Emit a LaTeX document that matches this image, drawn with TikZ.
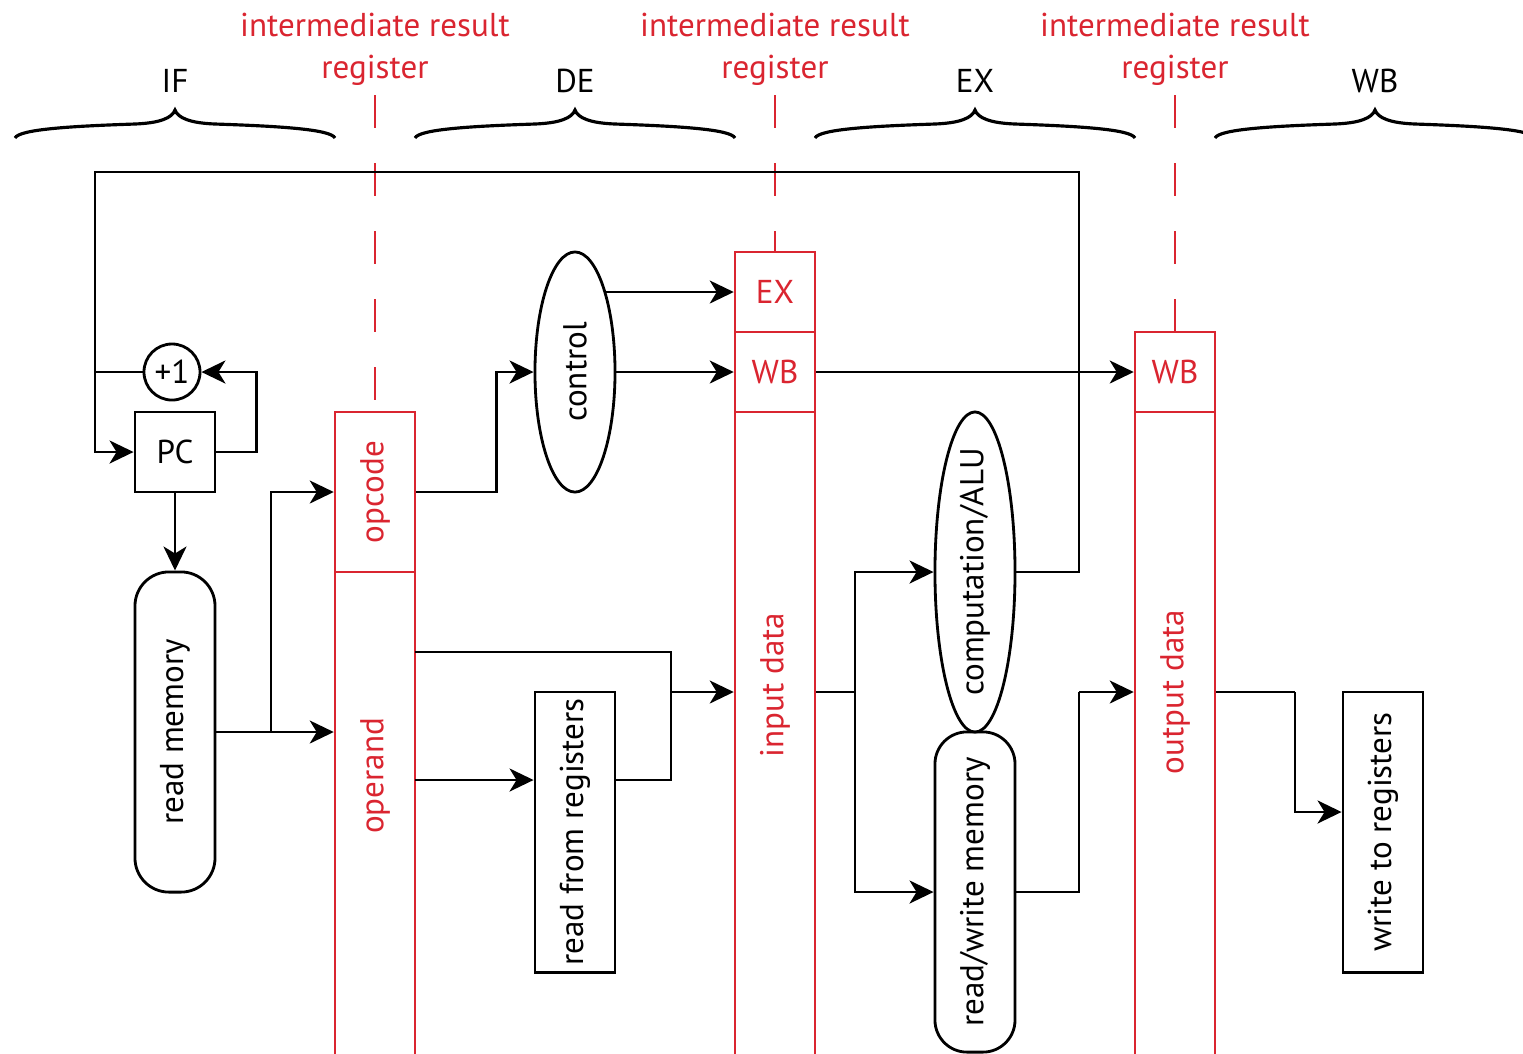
\documentclass[tikz,border=0pt]{standalone}
\usepackage{fontspec}
\setmainfont{PT Sans}
\usepackage{tikz}
\usetikzlibrary{shapes.geometric,arrows.meta}

\definecolor{regred}{RGB}{218,37,48}
\newcommand{\vtext}[1]{\rotatebox{90}{\makebox[0pt]{#1}}}

\begin{document}
\begin{tikzpicture}[x=0.01cm,y=-0.01cm,line width=0.8pt,
  font=\fontsize{9.4}{12}\selectfont,
  >={Stealth[length=0.24cm,width=0.23cm,inset=0.07cm]},
  blk/.style={draw,inner sep=0pt,minimum width=0.8cm},
  regbox/.style={draw=regred,text=regred,line width=0.7pt,inner sep=0pt,minimum width=0.8cm},
  regtext/.style={text=regred,align=center},
  dashline/.style={regred,line width=0.7pt,dash pattern=on 0.33cm off 0.35cm}]

\useasboundingbox (0,0) rectangle (1523,1053);
\clip (0,0) rectangle (1523,1053);

\draw[line width=0.9pt] (15,138) .. controls +(4,-9) and +(-60,2) .. ++(120,-14) .. controls +(25,-1) and +(-3,8) .. ++(40,-14)
  .. controls +(3,8) and +(-25,-1) .. ++(40,14) .. controls +(60,2) and +(-4,-9) .. ++(120,14);
\draw[line width=0.9pt] (415,138) .. controls +(4,-9) and +(-60,2) .. ++(120,-14) .. controls +(25,-1) and +(-3,8) .. ++(40,-14)
  .. controls +(3,8) and +(-25,-1) .. ++(40,14) .. controls +(60,2) and +(-4,-9) .. ++(120,14);
\draw[line width=0.9pt] (815,138) .. controls +(4,-9) and +(-60,2) .. ++(120,-14) .. controls +(25,-1) and +(-3,8) .. ++(40,-14)
  .. controls +(3,8) and +(-25,-1) .. ++(40,14) .. controls +(60,2) and +(-4,-9) .. ++(120,14);
\draw[line width=0.9pt] (1215,138) .. controls +(4,-9) and +(-60,2) .. ++(120,-14) .. controls +(25,-1) and +(-3,8) .. ++(40,-14)
  .. controls +(3,8) and +(-25,-1) .. ++(40,14) .. controls +(60,2) and +(-4,-9) .. ++(120,14);
\node (ifl) at (175,81) {IF};
\node (del) at (575,81) {DE};
\node (exl) at (975,81) {EX};
\node (wbl) at (1375,81) {WB};

\node[regtext] (ir1) at (375,49) {intermediate result\\register};
\node[regtext] (ir2) at (775,49) {intermediate result\\register};
\node[regtext] (ir3) at (1175,49) {intermediate result\\register};

\node[regbox,minimum height=1.6cm] (opcode) at (375,492) {\vtext{opcode}};
\node[regbox,minimum height=4.88cm] (operand) at (375,816) {};
\node[regtext] (operandl) at (375,776) {\vtext{operand}};
\node[regbox,minimum height=0.8cm] (ex1) at (775,292) {EX};
\node[regbox,minimum height=0.8cm] (wb1) at (775,372) {WB};
\node[regbox,minimum height=6.48cm] (indata) at (775,736) {};
\node[regtext] (indatal) at (775,685) {\vtext{input data}};
\node[regbox,minimum height=0.8cm] (wb2) at (1175,372) {WB};
\node[regbox,minimum height=6.48cm] (outdata) at (1175,736) {};
\node[regtext] (outdatal) at (1175,692) {\vtext{output data}};

\draw[dashline] (375,95) -- (opcode.north);
\draw[dashline] (775,95) -- (ex1.north);
\draw[dashline] (1175,95) -- (wb2.north);

\node[blk,circle,minimum size=0.56cm] (plus) at (172,372) {+1};
\node[blk,minimum height=0.8cm] (pc) at (175,452) {PC};
\node[blk,rounded corners=0.34cm,minimum height=3.2cm] (readmem) at (175,732) {\vtext{read memory}};
\node[blk,ellipse,minimum height=2.4cm] (control) at (575,372) {\vtext{control}};
\node[blk,minimum height=2.8cm] (readreg) at (575,832) {\vtext{read from registers}};
\node[blk,ellipse,minimum height=3.2cm] (alu) at (975,572) {\vtext{computation/ALU}};
\node[blk,rounded corners=0.32cm,minimum height=3.2cm] (rwmem) at (975,892) {\vtext{read/write memory}};
\node[blk,minimum height=2.8cm] (writereg) at (1383,832) {\vtext{write to registers}};

\coordinate (topl) at (95,172);
\coordinate (topr) at (1079,172);
\coordinate (fork1) at (271,732);
\coordinate (oparg1) at (415,652);
\coordinate (oparg2) at (415,780);
\coordinate (fork2) at (671,692);
\coordinate (fork3) at (855,692);
\coordinate (fork4) at (1079,692);
\coordinate (fork5) at (1295,692);

\draw[->] (alu.east) -| (topr) -- (topl) |- (pc.west);
\draw (rwmem.east) -| (fork4);
\draw[->] (fork4) -- (fork4 -| outdata.west);
\draw (plus.west) -- (plus.west -| topl);
\draw[->] (pc.east) -- ++(40,0) |- (plus.east);
\draw[->] (pc) -- (readmem);

\draw[->] (readmem.east) -- (readmem.east -| operand.west);
\draw[->] (fork1) |- (opcode.west);
\draw[->] (opcode.east) -- ++(80,0) |- (control.west);
\draw[->] (ex1.west -| control.north east) -- (ex1.west);
\draw[->] (control.east) -- (wb1.west);
\draw[->] (wb1.east) -- (wb2.west);

\draw (oparg1) -| (fork2);
\draw[->] (oparg2) -- (oparg2 -| readreg.west);
\draw (oparg2 -| readreg.east) -| (fork2);
\draw[->] (fork2) -- (fork2 -| indata.west);
\draw (fork3 -| indata.east) -- (fork3);
\draw[->] (fork3) |- (alu.west);
\draw[->] (fork3) |- (rwmem.west);
\draw (fork5 -| outdata.east) -- (fork5);
\draw[->] (fork5) |- ([yshift=0.2cm]writereg.west);

\end{tikzpicture}
\end{document}
